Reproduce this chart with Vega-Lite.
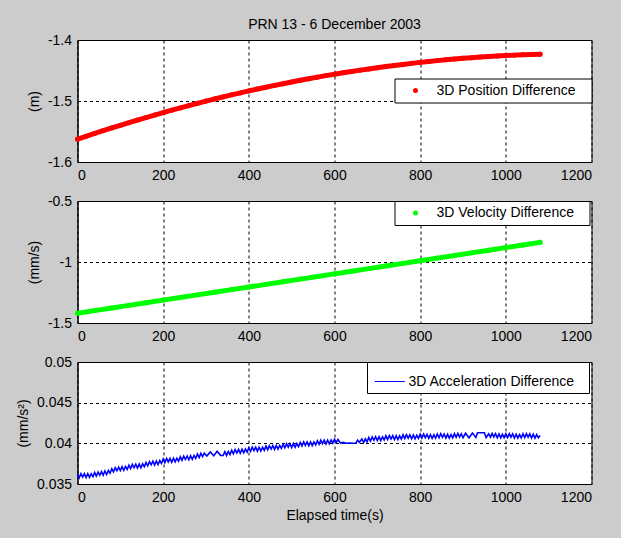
{
  "$schema": "https://vega.github.io/schema/vega-lite/v6.json",
  "background": "#cccccc",
  "padding": {"left": 15.5, "top": 17, "right": 28.5, "bottom": 15},
  "spacing": 39,
  "bounds": "flush",
  "resolve": {"scale": {"color": "independent", "y": "independent"}, "legend": {"color": "independent"}},
  "config": {
    "font": "Liberation Sans",
    "view": {"fill": "white", "stroke": "black", "strokeWidth": 1},
    "axis": {"labelFontSize": 14, "labelColor": "black", "labelFont": "Liberation Sans", "titleFont": "Liberation Sans", "titleFontSize": 14, "titleFontWeight": "normal", "titleColor": "black", "domainColor": "black", "gridColor": "black", "gridDash": [3, 3], "gridOpacity": 1, "gridWidth": 1, "ticks": false, "labelPadding": 6, "titlePadding": 6},
    "legend": {"strokeWidth": 1, "labelFontSize": 14, "labelColor": "black", "labelFont": "Liberation Sans", "labelLimit": 0, "fillColor": "white", "strokeColor": "black", "cornerRadius": 0}
  },
  "datasets": {
    "pos": [
      {"t": 0, "v": -1.5626}, {"t": 20, "v": -1.5579}, {"t": 40, "v": -1.5532}, {"t": 60, "v": -1.5487}, {"t": 80, "v": -1.5442},
      {"t": 100, "v": -1.5398}, {"t": 120, "v": -1.5355}, {"t": 140, "v": -1.5312}, {"t": 160, "v": -1.5271}, {"t": 180, "v": -1.523},
      {"t": 200, "v": -1.519}, {"t": 220, "v": -1.5151}, {"t": 240, "v": -1.5113}, {"t": 260, "v": -1.5075}, {"t": 280, "v": -1.5038},
      {"t": 300, "v": -1.5002}, {"t": 320, "v": -1.4967}, {"t": 340, "v": -1.4933}, {"t": 360, "v": -1.4899}, {"t": 380, "v": -1.4867},
      {"t": 400, "v": -1.4835}, {"t": 420, "v": -1.4804}, {"t": 440, "v": -1.4774}, {"t": 460, "v": -1.4744}, {"t": 480, "v": -1.4716},
      {"t": 500, "v": -1.4688}, {"t": 520, "v": -1.4661}, {"t": 540, "v": -1.4634}, {"t": 560, "v": -1.4609}, {"t": 580, "v": -1.4584},
      {"t": 600, "v": -1.4561}, {"t": 620, "v": -1.4538}, {"t": 640, "v": -1.4516}, {"t": 660, "v": -1.4494}, {"t": 680, "v": -1.4474},
      {"t": 700, "v": -1.4454}, {"t": 720, "v": -1.4435}, {"t": 740, "v": -1.4417}, {"t": 760, "v": -1.44}, {"t": 780, "v": -1.4383},
      {"t": 800, "v": -1.4367}, {"t": 820, "v": -1.4352}, {"t": 840, "v": -1.4338}, {"t": 860, "v": -1.4325}, {"t": 880, "v": -1.4313},
      {"t": 900, "v": -1.4301}, {"t": 920, "v": -1.429}, {"t": 940, "v": -1.428}, {"t": 960, "v": -1.4271}, {"t": 980, "v": -1.4262},
      {"t": 1000, "v": -1.4255}, {"t": 1020, "v": -1.4248}, {"t": 1040, "v": -1.4242}, {"t": 1060, "v": -1.4237}, {"t": 1080, "v": -1.4232}
    ],
    "vel": [
      {"t": 0, "v": -1.42}, {"t": 40, "v": -1.3985}, {"t": 80, "v": -1.377}, {"t": 120, "v": -1.3554}, {"t": 160, "v": -1.3339},
      {"t": 200, "v": -1.3124}, {"t": 240, "v": -1.2909}, {"t": 280, "v": -1.2694}, {"t": 320, "v": -1.2478}, {"t": 360, "v": -1.2263},
      {"t": 400, "v": -1.2048}, {"t": 440, "v": -1.1833}, {"t": 480, "v": -1.1618}, {"t": 520, "v": -1.1402}, {"t": 560, "v": -1.1187},
      {"t": 600, "v": -1.0972}, {"t": 640, "v": -1.0757}, {"t": 680, "v": -1.0542}, {"t": 720, "v": -1.0326}, {"t": 760, "v": -1.0111},
      {"t": 800, "v": -0.9896}, {"t": 840, "v": -0.9681}, {"t": 880, "v": -0.9466}, {"t": 920, "v": -0.925}, {"t": 960, "v": -0.9035},
      {"t": 1000, "v": -0.882}, {"t": 1040, "v": -0.8605}, {"t": 1080, "v": -0.839}
    ],
    "acc": [
      {"t": 0, "v": 0.03621}, {"t": 4, "v": 0.03577}, {"t": 8, "v": 0.03627}, {"t": 12, "v": 0.03585}, {"t": 16, "v": 0.03627},
      {"t": 20, "v": 0.03579}, {"t": 24, "v": 0.03627}, {"t": 28, "v": 0.03581}, {"t": 32, "v": 0.03627}, {"t": 36, "v": 0.03589},
      {"t": 40, "v": 0.03641}, {"t": 44, "v": 0.03597}, {"t": 48, "v": 0.03647}, {"t": 52, "v": 0.03607}, {"t": 56, "v": 0.03652},
      {"t": 60, "v": 0.03608}, {"t": 64, "v": 0.0366}, {"t": 68, "v": 0.03617}, {"t": 72, "v": 0.03667}, {"t": 76, "v": 0.03632},
      {"t": 80, "v": 0.03688}, {"t": 84, "v": 0.03648}, {"t": 88, "v": 0.03701}, {"t": 92, "v": 0.03663}, {"t": 96, "v": 0.03708},
      {"t": 100, "v": 0.03664}, {"t": 104, "v": 0.03713}, {"t": 108, "v": 0.03668}, {"t": 112, "v": 0.03716}, {"t": 116, "v": 0.03679},
      {"t": 120, "v": 0.03732}, {"t": 124, "v": 0.03689}, {"t": 128, "v": 0.0374}, {"t": 132, "v": 0.037}, {"t": 136, "v": 0.03743},
      {"t": 140, "v": 0.03696}, {"t": 144, "v": 0.03745}, {"t": 148, "v": 0.037}, {"t": 152, "v": 0.03748}, {"t": 156, "v": 0.03712},
      {"t": 160, "v": 0.03766}, {"t": 164, "v": 0.03724}, {"t": 168, "v": 0.03776}, {"t": 172, "v": 0.03736}, {"t": 176, "v": 0.0378},
      {"t": 180, "v": 0.03734}, {"t": 184, "v": 0.03784}, {"t": 188, "v": 0.0374}, {"t": 192, "v": 0.03788}, {"t": 196, "v": 0.03752},
      {"t": 200, "v": 0.03806}, {"t": 204, "v": 0.03763}, {"t": 208, "v": 0.03814}, {"t": 212, "v": 0.03772}, {"t": 216, "v": 0.03815},
      {"t": 220, "v": 0.03768}, {"t": 224, "v": 0.03817}, {"t": 228, "v": 0.03772}, {"t": 232, "v": 0.03818}, {"t": 236, "v": 0.03781},
      {"t": 240, "v": 0.03834}, {"t": 244, "v": 0.03791}, {"t": 248, "v": 0.03842}, {"t": 252, "v": 0.03801}, {"t": 256, "v": 0.03844},
      {"t": 260, "v": 0.03798}, {"t": 264, "v": 0.03848}, {"t": 268, "v": 0.03803}, {"t": 272, "v": 0.03851}, {"t": 276, "v": 0.03814},
      {"t": 280, "v": 0.03868}, {"t": 284, "v": 0.03826}, {"t": 288, "v": 0.03877}, {"t": 292, "v": 0.03837}, {"t": 296, "v": 0.0388},
      {"t": 302, "v": 0.03845}, {"t": 310, "v": 0.03895}, {"t": 318, "v": 0.03848}, {"t": 326, "v": 0.03902}, {"t": 334, "v": 0.03852},
      {"t": 340, "v": 0.0385}, {"t": 344, "v": 0.03898}, {"t": 348, "v": 0.03851}, {"t": 352, "v": 0.03898}, {"t": 356, "v": 0.03861},
      {"t": 360, "v": 0.03914}, {"t": 364, "v": 0.03871}, {"t": 368, "v": 0.03922}, {"t": 372, "v": 0.03882}, {"t": 376, "v": 0.03925},
      {"t": 380, "v": 0.03878}, {"t": 384, "v": 0.03927}, {"t": 388, "v": 0.03882}, {"t": 392, "v": 0.0393}, {"t": 396, "v": 0.03893},
      {"t": 400, "v": 0.03946}, {"t": 404, "v": 0.03902}, {"t": 408, "v": 0.03952}, {"t": 412, "v": 0.0391}, {"t": 416, "v": 0.03952},
      {"t": 420, "v": 0.03904}, {"t": 424, "v": 0.03952}, {"t": 428, "v": 0.03906}, {"t": 432, "v": 0.03952}, {"t": 436, "v": 0.03914},
      {"t": 440, "v": 0.03966}, {"t": 444, "v": 0.03922}, {"t": 448, "v": 0.03972}, {"t": 452, "v": 0.0393}, {"t": 456, "v": 0.03973},
      {"t": 460, "v": 0.03925}, {"t": 464, "v": 0.03973}, {"t": 468, "v": 0.03928}, {"t": 472, "v": 0.03974}, {"t": 476, "v": 0.03937},
      {"t": 480, "v": 0.03989}, {"t": 484, "v": 0.03945}, {"t": 488, "v": 0.03996}, {"t": 492, "v": 0.03954}, {"t": 496, "v": 0.03997},
      {"t": 500, "v": 0.03949}, {"t": 504, "v": 0.03997}, {"t": 508, "v": 0.03951}, {"t": 512, "v": 0.03997}, {"t": 516, "v": 0.03959},
      {"t": 520, "v": 0.04011}, {"t": 524, "v": 0.03967}, {"t": 528, "v": 0.04017}, {"t": 532, "v": 0.03975}, {"t": 536, "v": 0.04017},
      {"t": 540, "v": 0.03969}, {"t": 544, "v": 0.04017}, {"t": 548, "v": 0.03971}, {"t": 552, "v": 0.04017}, {"t": 556, "v": 0.0398},
      {"t": 560, "v": 0.04032}, {"t": 564, "v": 0.03988}, {"t": 568, "v": 0.04039}, {"t": 572, "v": 0.03997}, {"t": 576, "v": 0.0404},
      {"t": 580, "v": 0.03992}, {"t": 584, "v": 0.0404}, {"t": 588, "v": 0.03995}, {"t": 592, "v": 0.04041}, {"t": 596, "v": 0.04004},
      {"t": 600, "v": 0.04052}, {"t": 604, "v": 0.04008}, {"t": 608, "v": 0.04047}, {"t": 614, "v": 0.04004}, {"t": 620, "v": 0.04012},
      {"t": 628, "v": 0.04001}, {"t": 636, "v": 0.04002}, {"t": 644, "v": 0.04001}, {"t": 650, "v": 0.04003}, {"t": 654, "v": 0.0404},
      {"t": 658, "v": 0.04012}, {"t": 664, "v": 0.04053}, {"t": 668, "v": 0.04008}, {"t": 672, "v": 0.04055}, {"t": 676, "v": 0.04018},
      {"t": 680, "v": 0.04071}, {"t": 684, "v": 0.04028}, {"t": 688, "v": 0.04079}, {"t": 692, "v": 0.04038}, {"t": 696, "v": 0.04081},
      {"t": 700, "v": 0.04034}, {"t": 704, "v": 0.04081}, {"t": 708, "v": 0.04034}, {"t": 712, "v": 0.0408}, {"t": 716, "v": 0.04041},
      {"t": 720, "v": 0.04092}, {"t": 724, "v": 0.04047}, {"t": 728, "v": 0.04096}, {"t": 732, "v": 0.04054}, {"t": 736, "v": 0.04095},
      {"t": 740, "v": 0.04046}, {"t": 744, "v": 0.04093}, {"t": 748, "v": 0.04046}, {"t": 752, "v": 0.04092}, {"t": 756, "v": 0.04053},
      {"t": 760, "v": 0.04104}, {"t": 764, "v": 0.04058}, {"t": 768, "v": 0.04107}, {"t": 772, "v": 0.04064}, {"t": 776, "v": 0.04105},
      {"t": 780, "v": 0.04056}, {"t": 784, "v": 0.04102}, {"t": 788, "v": 0.04055}, {"t": 792, "v": 0.041}, {"t": 796, "v": 0.04061},
      {"t": 800, "v": 0.04111}, {"t": 804, "v": 0.04065}, {"t": 808, "v": 0.04114}, {"t": 812, "v": 0.0407}, {"t": 816, "v": 0.0411},
      {"t": 820, "v": 0.04061}, {"t": 824, "v": 0.04107}, {"t": 828, "v": 0.0406}, {"t": 832, "v": 0.04104}, {"t": 836, "v": 0.04064},
      {"t": 840, "v": 0.04115}, {"t": 844, "v": 0.04069}, {"t": 848, "v": 0.04118}, {"t": 852, "v": 0.04074}, {"t": 856, "v": 0.04114},
      {"t": 860, "v": 0.04065}, {"t": 864, "v": 0.04111}, {"t": 868, "v": 0.04064}, {"t": 872, "v": 0.04108}, {"t": 876, "v": 0.04068},
      {"t": 880, "v": 0.04119}, {"t": 884, "v": 0.04073}, {"t": 888, "v": 0.04122}, {"t": 892, "v": 0.04078}, {"t": 896, "v": 0.04118},
      {"t": 900, "v": 0.04069}, {"t": 906, "v": 0.04124}, {"t": 914, "v": 0.04068}, {"t": 922, "v": 0.04127}, {"t": 930, "v": 0.04072},
      {"t": 934, "v": 0.0413}, {"t": 950, "v": 0.0413}, {"t": 954, "v": 0.04072}, {"t": 960, "v": 0.04116}, {"t": 964, "v": 0.04075},
      {"t": 968, "v": 0.04123}, {"t": 972, "v": 0.04079}, {"t": 976, "v": 0.04119}, {"t": 980, "v": 0.04069}, {"t": 984, "v": 0.04115},
      {"t": 988, "v": 0.04067}, {"t": 992, "v": 0.04111}, {"t": 996, "v": 0.04071}, {"t": 1000, "v": 0.04118}, {"t": 1004, "v": 0.04072},
      {"t": 1008, "v": 0.0412}, {"t": 1012, "v": 0.04076}, {"t": 1016, "v": 0.04116}, {"t": 1020, "v": 0.04066}, {"t": 1024, "v": 0.04112},
      {"t": 1028, "v": 0.04064}, {"t": 1032, "v": 0.04108}, {"t": 1036, "v": 0.04068}, {"t": 1040, "v": 0.04118}, {"t": 1044, "v": 0.04072},
      {"t": 1048, "v": 0.0412}, {"t": 1052, "v": 0.04076}, {"t": 1056, "v": 0.04116}, {"t": 1060, "v": 0.04066}, {"t": 1064, "v": 0.04112},
      {"t": 1068, "v": 0.04064}, {"t": 1072, "v": 0.04108}, {"t": 1076, "v": 0.04068}, {"t": 1080, "v": 0.04095}
    ]
  },
  "vconcat": [
    {
      "width": 514,
      "height": 122,
      "title": {"text": "PRN 13 - 6 December 2003", "fontSize": 14, "fontWeight": "normal", "color": "black", "font": "Liberation Sans", "anchor": "middle", "offset": 1},
      "data": {"name": "pos"},
      "encoding": {
        "x": {"field": "t", "type": "quantitative", "scale": {"domain": [0, 1200], "nice": false}, "axis": {"values": [0, 200, 400, 600, 800, 1000, 1200], "title": null, "labelExpr": "'' + datum.value"}},
        "y": {"field": "v", "type": "quantitative", "scale": {"domain": [-1.6, -1.4], "nice": false, "zero": false}, "axis": {"values": [-1.6, -1.5, -1.4], "title": "(m)", "labelExpr": "'' + datum.value"}}
      },
      "layer": [
        {"mark": {"type": "line", "color": "#ff0000", "strokeWidth": 5, "strokeCap": "round", "strokeJoin": "round"}},
        {
          "mark": {"type": "point", "filled": true, "size": 25, "opacity": 1},
          "encoding": {
            "color": {"datum": "3D Position Difference", "type": "nominal", "scale": {"range": ["#ff0000"]},
              "legend": {"title": null, "orient": "none", "legendX": 317, "legendY": 38.5, "padding": 5, "symbolSize": 25, "symbolOffset": 9, "labelOffset": 14, "labelExpr": "datum.label + '\u2800'"}}
          }
        }
      ]
    },
    {
      "width": 514,
      "height": 122,
      "data": {"name": "vel"},
      "encoding": {
        "x": {"field": "t", "type": "quantitative", "scale": {"domain": [0, 1200], "nice": false}, "axis": {"values": [0, 200, 400, 600, 800, 1000, 1200], "title": null, "labelExpr": "'' + datum.value"}},
        "y": {"field": "v", "type": "quantitative", "scale": {"domain": [-1.5, -0.5], "nice": false, "zero": false}, "axis": {"values": [-1.5, -1, -0.5], "title": "(mm/s)", "labelExpr": "'' + datum.value"}}
      },
      "layer": [
        {"mark": {"type": "line", "color": "#00ff00", "strokeWidth": 5, "strokeCap": "round", "strokeJoin": "round"}},
        {
          "mark": {"type": "point", "filled": true, "size": 25, "opacity": 1},
          "encoding": {
            "color": {"datum": "3D Velocity Difference", "type": "nominal", "scale": {"range": ["#00ff00"]},
              "legend": {"title": null, "orient": "none", "legendX": 317, "legendY": 0, "padding": 5, "symbolSize": 25, "symbolOffset": 9, "labelOffset": 14, "labelExpr": "datum.label + '\u2800'"}}
          }
        }
      ]
    },
    {
      "width": 514,
      "height": 122,
      "data": {"name": "acc"},
      "encoding": {
        "x": {"field": "t", "type": "quantitative", "scale": {"domain": [0, 1200], "nice": false}, "axis": {"values": [0, 200, 400, 600, 800, 1000, 1200], "title": "Elapsed time(s)", "titlePadding": 4, "labelExpr": "'' + datum.value"}},
        "y": {"field": "v", "type": "quantitative", "scale": {"domain": [0.035, 0.05], "nice": false, "zero": false}, "axis": {"values": [0.035, 0.04, 0.045, 0.05], "title": "(mm/s²)", "labelExpr": "'' + datum.value"}}
      },
      "layer": [
        {
          "mark": {"type": "line", "strokeWidth": 1.6},
          "encoding": {
            "color": {"datum": "3D Acceleration Difference", "type": "nominal", "scale": {"range": ["#0000ff"]},
              "legend": {"title": null, "orient": "none", "legendX": 289.5, "legendY": 0, "padding": 4, "symbolType": "stroke", "symbolSize": 900, "symbolStrokeWidth": 1, "symbolOffset": 3.25, "labelOffset": 3.25, "labelExpr": "datum.label + '\u2800'"}}
          }
        }
      ]
    }
  ]
}
